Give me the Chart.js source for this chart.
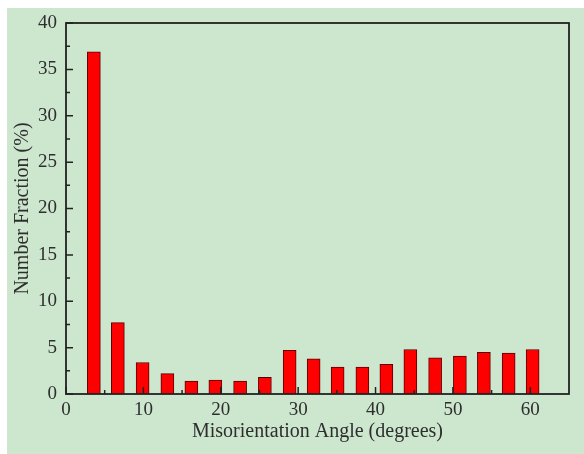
<!DOCTYPE html>
<html>
<head>
<meta charset="utf-8">
<script src="https://cdn.jsdelivr.net/npm/chart.js@4/dist/chart.umd.min.js"></script>
<style>
  html, body { margin: 0; padding: 0; background: #ffffff; }
  #wrap { position: relative; width: 584px; height: 454px; }
</style>
</head>
<body>
<div id="wrap"><canvas id="chart" width="584" height="454"></canvas></div>
<script>
// --- Daten ---
const angles = [3.6, 6.7, 9.9, 13.1, 16.2, 19.3, 22.5, 25.7, 28.9, 32.0, 35.1, 38.3, 41.4, 44.5, 47.7, 50.9, 54.0, 57.2, 60.3];
const fractions = [36.9, 7.7, 3.4, 2.2, 1.4, 1.5, 1.4, 1.8, 4.7, 3.8, 2.9, 2.9, 3.2, 4.8, 3.9, 4.1, 4.5, 4.4, 4.8];
const xMajor = [0, 10, 20, 30, 40, 50, 60];
const xMinor = [5, 15, 25, 35, 45, 55];
const yMajor = [0, 5, 10, 15, 20, 25, 30, 35, 40];
const yMinor = [2.5, 7.5, 12.5, 17.5, 22.5, 27.5, 32.5, 37.5];

const FONT = "'Liberation Serif', 'DejaVu Serif', serif";
const TXT = "#2e2e2e";

// Hintergrund + Rahmen + Ticks nach innen
const framePlugin = {
  id: "frame",
  beforeDraw(c){
    const ctx = c.ctx;
    ctx.save();
    ctx.fillStyle = "#cde7cf";
    ctx.fillRect(7, 8, c.width - 7, c.height - 8);
    ctx.restore();
  },
  afterDatasetsDraw(c){
    const ctx = c.ctx, a = c.chartArea;
    const xs = c.scales.x, ys = c.scales.y;
    ctx.save();
    ctx.strokeStyle = "#222222";
    ctx.lineWidth = 1.5;
    ctx.beginPath();
    for(const v of yMajor){ const p = ys.getPixelForValue(v); ctx.moveTo(a.left, p); ctx.lineTo(a.left + 7, p); }
    for(const v of yMinor){ const p = ys.getPixelForValue(v); ctx.moveTo(a.left, p); ctx.lineTo(a.left + 4, p); }
    for(const v of xMajor){ const p = xs.getPixelForValue(v); ctx.moveTo(p, a.bottom); ctx.lineTo(p, a.bottom - 7); }
    for(const v of xMinor){ const p = xs.getPixelForValue(v); ctx.moveTo(p, a.bottom); ctx.lineTo(p, a.bottom - 4); }
    ctx.stroke();
    ctx.lineWidth = 1.8;
    ctx.strokeRect(a.left, a.top, a.right - a.left, a.bottom - a.top);
    ctx.restore();
  }
};

new Chart(document.getElementById("chart"), {
  type: "bar",
  data: {
    datasets: [{
      data: angles.map((x, i) => ({x: x, y: fractions[i]})),
      backgroundColor: "#ff0000",
      borderColor: "#5a0000",
      borderWidth: 1,
      barThickness: 13,
      borderSkipped: "bottom"
    }]
  },
  options: {
    responsive: false,
    animation: false,
    layout: { padding: { left: 0, top: 23, right: 15, bottom: 0 } },
    plugins: { legend: { display: false }, tooltip: { enabled: false } },
    scales: {
      x: {
        type: "linear",
        min: 0, max: 65,
        offset: false,
        grid: { display: false, drawTicks: false, offset: false },
        border: { display: false },
        afterFit(s){ s.height = 60; },
        ticks: {
          stepSize: 10,
          padding: 5,
          color: TXT,
          font: { family: FONT, size: 19 },
          maxRotation: 0,
          callback: v => (v % 10 === 0 && v <= 60) ? String(v) : ""
        },
        title: {
          display: true,
          text: "Misorientation Angle (degrees)",
          color: TXT,
          font: { family: FONT, size: 20 },
          padding: { top: 0, bottom: 10 }
        }
      },
      y: {
        min: 0, max: 40,
        grid: { display: false, drawTicks: false },
        border: { display: false },
        afterFit(s){ s.width = 66; },
        ticks: {
          stepSize: 5,
          padding: 9,
          color: TXT,
          font: { family: FONT, size: 19 }
        },
        title: {
          display: true,
          text: "Number Fraction (%)",
          color: TXT,
          font: { family: FONT, size: 20 },
          padding: { top: 11, bottom: 0 }
        }
      }
    }
  },
  plugins: [framePlugin]
});
</script>
</body>
</html>
